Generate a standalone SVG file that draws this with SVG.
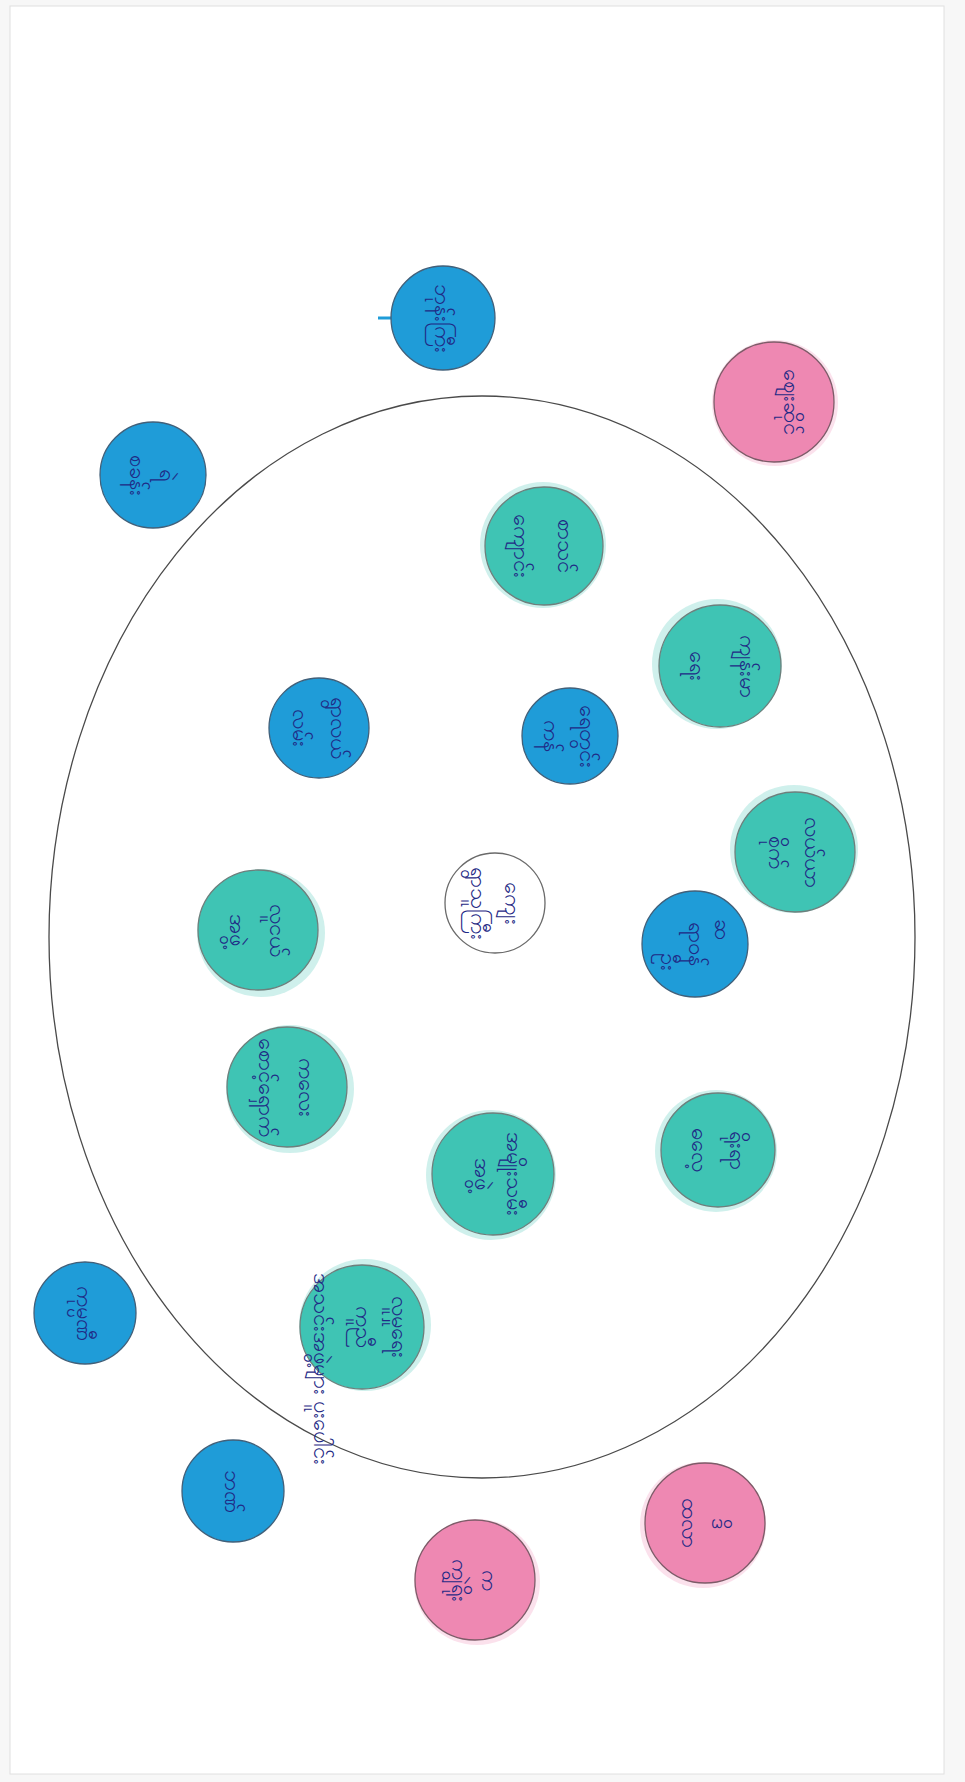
<svg xmlns="http://www.w3.org/2000/svg" width="965" height="1782" viewBox="0 0 965 1782">
<style>
.t{font-family:"Noto Sans","DejaVu Sans",sans-serif;font-size:22px;fill:#1f2a86;text-anchor:middle}
.teal{fill:#3fc4b4;stroke:#6d7f7c;stroke-width:1.3}
.tealh{fill:#3fc4b4;opacity:0.25}
.blue{fill:#1f9cd8;stroke:#41607a;stroke-width:1.3}
.pink{fill:#ee88b2;stroke:#7d5b68;stroke-width:1.3}
.pinkh{fill:#ee88b2;opacity:0.25}
.white{fill:#ffffff;stroke:#6a6a6a;stroke-width:1.3}
</style>
<rect x="0" y="0" width="965" height="1782" fill="#f7f7f7"/>
<rect x="10" y="6" width="934" height="1768" fill="#ffffff" stroke="#e0e0e0" stroke-width="1"/>
<g id="connectors">
<ellipse cx="482" cy="937" rx="433" ry="541" fill="none" stroke="#4a4a4a" stroke-width="1.3"/>
</g>
<g id="n1"><line x1="378" y1="318" x2="394" y2="318" stroke="#1f9cd8" stroke-width="3"/><circle class="blue" cx="443" cy="318" r="52"/><text class="t" transform="translate(443,318) rotate(90)" y="8">ဘုန်းကြီး</text></g>
<g id="n2"><circle class="blue" cx="153" cy="475" r="53"/><text class="t" transform="translate(153,475) rotate(90)"><tspan x="0" y="-7">ရဲ</tspan><tspan x="0" y="23">စခန်း</tspan></text></g>
<g id="n3"><circle class="blue" cx="85" cy="1313" r="51"/><text class="t" transform="translate(85,1313) rotate(90)" y="8">ကုမ္ပဏီ</text></g>
<g id="n4"><circle class="blue" cx="233" cy="1491" r="51"/><text class="t" transform="translate(233,1491) rotate(90)" y="8">ဘဏ်</text></g>
<g id="n5"><circle class="pinkh" cx="775" cy="403" r="63"/><circle class="pink" cx="774" cy="402" r="60"/><text class="t" transform="translate(774,402) rotate(90)" y="-10">ဈေးဆိုင်</text></g>
<g id="n6"><circle class="pinkh" cx="477" cy="1582" r="63"/><circle class="pink" cx="475" cy="1580" r="60"/><text class="t" transform="translate(475,1580) rotate(90)"><tspan x="0" y="-7">က</tspan><tspan x="0" y="23">ကျွဲရိုး</tspan></text></g>
<g id="n7"><circle class="pinkh" cx="703" cy="1525" r="63"/><circle class="pink" cx="705" cy="1523" r="60"/><text class="t" transform="translate(705,1523) rotate(90)"><tspan x="0" y="-7">ဒိ</tspan><tspan x="0" y="23">ထလာ</tspan></text></g>
<g id="n8"><circle class="tealh" cx="543" cy="545" r="63"/><circle class="teal" cx="544" cy="546" r="59"/><text class="t" transform="translate(544,546) rotate(90)"><tspan x="0" y="-14">စာသင်</tspan><tspan x="0" y="30">ကျောင်း</tspan></text></g>
<g id="n9"><circle class="tealh" cx="717" cy="664" r="65"/><circle class="teal" cx="720" cy="666" r="61"/><text class="t" transform="translate(720,666) rotate(90)"><tspan x="0" y="-20">ကျန်းမာ</tspan><tspan x="0" y="30">ရေး</tspan></text></g>
<g id="n10"><circle class="blue" cx="319" cy="728" r="50"/><text class="t" transform="translate(319,728) rotate(90)"><tspan x="0" y="-12">ရွာလယ်</tspan><tspan x="0" y="26">လမ်း</tspan></text></g>
<g id="n11"><circle class="blue" cx="570" cy="736" r="48"/><text class="t" transform="translate(570,736) rotate(90)"><tspan x="0" y="-10">ရေတွင်း</tspan><tspan x="0" y="26">ကန်</tspan></text></g>
<g id="n12"><circle class="tealh" cx="794" cy="849" r="64"/><circle class="teal" cx="795" cy="852" r="60"/><text class="t" transform="translate(795,852) rotate(90)"><tspan x="0" y="-10">လယ်ယာ</tspan><tspan x="0" y="26">စိုက်</tspan></text></g>
<g id="n13"><circle class="tealh" cx="261" cy="933" r="64"/><circle class="teal" cx="258" cy="930" r="60"/><text class="t" transform="translate(258,930) rotate(90)"><tspan x="0" y="-12">လူငယ်</tspan><tspan x="0" y="28">အဖွဲ့</tspan></text></g>
<g id="n14"><circle class="white" cx="495" cy="903" r="50"/><text class="t" transform="translate(495,903) rotate(90)"><tspan x="0" y="-10">ကျေး</tspan><tspan x="0" y="24">ရွာသူကြီး</tspan></text></g>
<g id="n15"><circle class="blue" cx="695" cy="944" r="53"/><text class="t" transform="translate(695,944) rotate(90)"><tspan x="-15" y="-20">ဆ</tspan><tspan x="0" y="6">ရာဝန်</tspan><tspan x="18" y="34">ဦး</tspan></text></g>
<g id="n16"><circle class="tealh" cx="290" cy="1089" r="64"/><circle class="teal" cx="287" cy="1087" r="60"/><text class="t" transform="translate(287,1087) rotate(90)"><tspan x="0" y="-12">ကလေး</tspan><tspan x="0" y="28">စောင့်ရှောက်</tspan></text></g>
<g id="n17"><circle class="tealh" cx="491" cy="1175" r="65"/><circle class="teal" cx="493" cy="1174" r="61"/><text class="t" transform="translate(493,1174) rotate(90)"><tspan x="0" y="-14">အမျိုးသမီး</tspan><tspan x="0" y="18">အဖွဲ့</tspan></text></g>
<g id="n18"><circle class="tealh" cx="716" cy="1151" r="61"/><circle class="teal" cx="718" cy="1150" r="57"/><text class="t" transform="translate(718,1150) rotate(90)"><tspan x="0" y="-12">ရိုးရာ</tspan><tspan x="0" y="26">ဓလေ့</tspan></text></g>
<g id="n19"><circle class="tealh" cx="365" cy="1325" r="66"/><circle class="teal" cx="362" cy="1327" r="62"/><text class="t" transform="translate(362,1327) rotate(90)"><tspan x="0" y="-30">လူမှုရေး</tspan><tspan x="0" y="6">ကူညီ</tspan><tspan x="42" y="48">အသင်းအဖွဲ့များ ပူးပေါင်း</tspan></text></g>
</svg>
